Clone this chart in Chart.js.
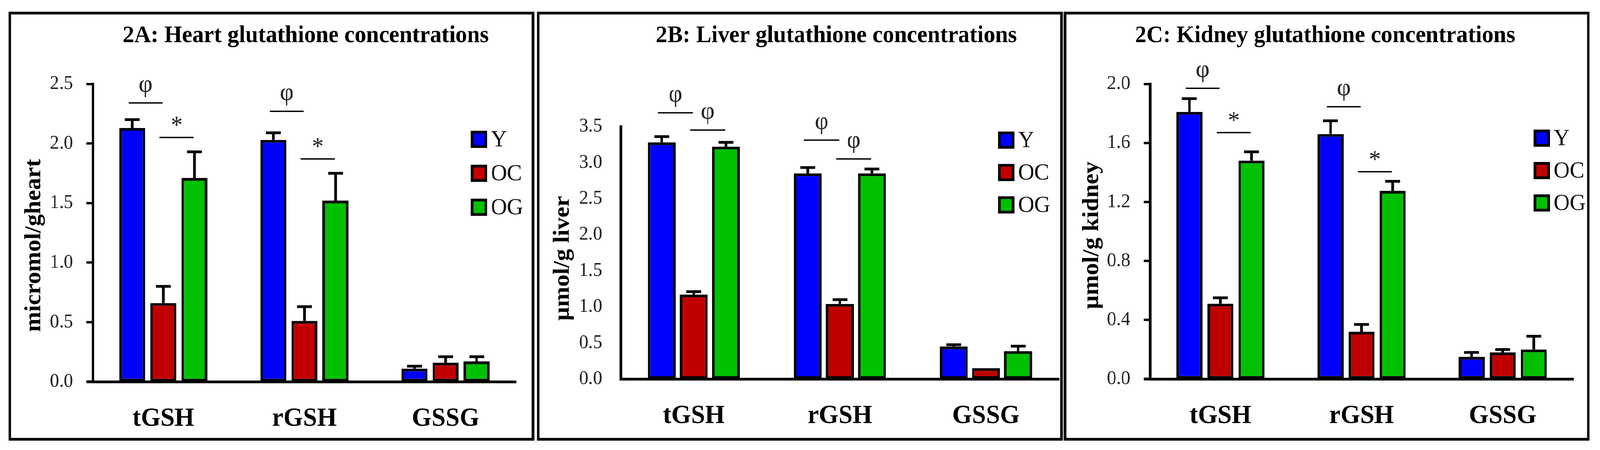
<!DOCTYPE html>
<html>
<head>
<meta charset="utf-8">
<script src="https://cdn.jsdelivr.net/npm/chart.js@4.4.1/dist/chart.umd.min.js"></script>
<style>
html, body { margin: 0; background: #fff; overflow: hidden; }
#page { width: 4312px; height: 1153px; position: relative; transform-origin: 0 0; background: #fff; }
.panel { position: absolute; top: 30px; width: 1403px; height: 1085px; border: 7px solid #000; background: #fff; }
canvas { display: block; }
</style>
</head>
<body>
<div id="page">
<div class="panel" style="left:23px"><canvas id="heart" width="1403" height="1085"></canvas></div>
<div class="panel" style="left:1447px"><canvas id="liver" width="1403" height="1085"></canvas></div>
<div class="panel" style="left:2867px"><canvas id="kidney" width="1403" height="1085"></canvas></div>
</div>
<script>
// categories and groups shared by all three panels
const categories = ['tGSH', 'rGSH', 'GSSG'];
const groups = ['Y', 'OC', 'OG'];

// 2A heart (micromol/g heart)
const heartY = [2.13, 2.03, 0.11];
const heartOC = [0.66, 0.51, 0.16];
const heartOG = [1.71, 1.52, 0.17];
const heartYErr = [0.07, 0.06, 0.02];
const heartOCErr = [0.14, 0.12, 0.05];
const heartOGErr = [0.22, 0.23, 0.04];
const heartTicks = [0, 2.5, 0.5]; // min, max, step
// significance marks: [category, bar from, bar to, level, symbol]
const heartMarks = [[0, 0, 1, 2.34, 'φ'], [0, 1, 2, 2.05, '*'], [1, 0, 1, 2.27, 'φ'], [1, 1, 2, 1.87, '*']];

// 2B liver (µmol/g liver)
const liverY = [3.28, 2.85, 0.45];
const liverOC = [1.17, 1.04, 0.15];
const liverOG = [3.22, 2.85, 0.385];
const liverYErr = [0.08, 0.08, 0.025];
const liverOCErr = [0.04, 0.06, 0];
const liverOGErr = [0.06, 0.06, 0.07];
const liverTicks = [0, 3.5, 0.5];
const liverMarks = [[0, 0, 1, 3.69, 'φ'], [0, 1, 2, 3.45, 'φ'], [1, 0, 1, 3.31, 'φ'], [1, 1, 2, 3.05, 'φ']];

// 2C kidney (µmol/g kidney)
const kidneyY = [1.81, 1.66, 0.15];
const kidneyOC = [0.51, 0.32, 0.18];
const kidneyOG = [1.48, 1.275, 0.20];
const kidneyYErr = [0.09, 0.09, 0.03];
const kidneyOCErr = [0.04, 0.05, 0.02];
const kidneyOGErr = [0.06, 0.065, 0.09];
const kidneyTicks = [0, 2.0, 0.4];
const kidneyMarks = [[0, 0, 1, 1.97, 'φ'], [0, 1, 2, 1.67, '*'], [1, 0, 1, 1.845, 'φ'], [1, 1, 2, 1.405, '*']];

const SERIF = '"Liberation Serif", "Times New Roman", serif';
const barColors = ['#0000ff', '#c00000', '#00c000'];
const W = 1403, H = 1085;

// the layout is drawn at 4312x1153 and fitted to whatever window we get
document.getElementById('page').style.transform =
    'scale(' + (window.innerWidth / 4312) + ',' + (window.innerHeight / 1153) + ')';

// draws error bars, significance marks, titles and the legend
const extras = {
    id: 'panelExtras',
    afterDatasetsDraw(chart, args, o) {
        const ctx = chart.ctx;
        const y = chart.scales.y;
        const area = chart.chartArea;
        ctx.save();
        ctx.strokeStyle = '#000';
        ctx.lineWidth = 7;
        // x axis runs a little past the y axis when there are tick marks
        if (o.axisTicks) {
            ctx.beginPath();
            ctx.moveTo(area.left - 17, area.bottom);
            ctx.lineTo(area.left, area.bottom);
            ctx.stroke();
        }
        o.errors.forEach((errs, d) => {
            const meta = chart.getDatasetMeta(d);
            meta.data.forEach((bar, j) => {
                if (!errs[j]) return;
                const top = y.getPixelForValue(o.values[d][j] + errs[j]);
                ctx.beginPath();
                ctx.moveTo(bar.x, bar.y);
                ctx.lineTo(bar.x, top);
                ctx.moveTo(bar.x - 20, top);
                ctx.lineTo(bar.x + 20, top);
                ctx.stroke();
            });
        });
        // significance lines and symbols
        ctx.lineWidth = 3.5;
        ctx.fillStyle = '#222';
        ctx.font = '64px ' + SERIF;
        ctx.textAlign = 'center';
        ctx.textBaseline = 'middle';
        o.marks.forEach(([cat, a, b, level, sym]) => {
            const x1 = chart.getDatasetMeta(a).data[cat].x - 10;
            const x2 = chart.getDatasetMeta(b).data[cat].x - 2;
            const ly = y.getPixelForValue(level);
            ctx.beginPath();
            ctx.moveTo(x1, ly);
            ctx.lineTo(x2, ly);
            ctx.stroke();
            ctx.fillText(sym, (x1 + x2) / 2, ly - (sym === '*' ? 28 : 46));
        });
        ctx.restore();
    },
    afterDraw(chart, args, o) {
        const ctx = chart.ctx;
        ctx.save();
        ctx.fillStyle = '#000';
        ctx.textBaseline = 'middle';
        ctx.textAlign = 'center';
        ctx.font = 'bold 62px ' + SERIF;
        ctx.fillText(o.title, o.titleX, 55);
        ctx.save();
        ctx.translate(o.yTitleX, o.yTitleY);
        ctx.rotate(-Math.PI / 2);
        ctx.fillText(o.yTitle, 0, 0);
        ctx.restore();
        // legend
        ctx.textAlign = 'left';
        ctx.font = '60px ' + SERIF;
        groups.forEach((g, i) => {
            const bx = o.legX, by = o.legY + i * o.legGap;
            ctx.fillStyle = barColors[i];
            ctx.fillRect(bx, by, 44, 44);
            ctx.strokeStyle = '#000';
            ctx.lineWidth = 7;
            ctx.strokeRect(bx + 3.5, by + 3.5, 37, 37);
            ctx.fillStyle = '#111';
            ctx.fillText(g, bx + 54, by + 24);
        });
        ctx.restore();
    }
};

function buildChart(id, p) {
    const values = [p.y, p.oc, p.og];
    return new Chart(document.getElementById(id), {
        type: 'bar',
        data: {
            labels: categories,
            datasets: groups.map((g, i) => ({
                label: g,
                data: values[i],
                backgroundColor: barColors[i],
                borderColor: '#000',
                borderWidth: 7,
                borderSkipped: false,
                categoryPercentage: 0.66,
                barPercentage: p.barPct
            }))
        },
        options: {
            responsive: false,
            animation: false,
            devicePixelRatio: 1,
            layout: { padding: { top: p.area[1], right: W - p.area[2], left: 0, bottom: 0 } },
            plugins: {
                legend: { display: false },
                tooltip: { enabled: false },
                panelExtras: {
                    values: values,
                    errors: p.errors,
                    marks: p.marks,
                    axisTicks: p.axisTicks,
                    title: p.title, titleX: p.titleX,
                    yTitle: p.yTitle, yTitleX: p.yTitlePos[0], yTitleY: p.yTitlePos[1],
                    legX: p.legend[0], legY: p.legend[1], legGap: p.legend[2]
                }
            },
            scales: {
                x: {
                    grid: { display: false, drawTicks: false },
                    border: { display: true, color: '#000', width: 7 },
                    ticks: { padding: 55, color: '#000', font: { family: SERIF, size: 68, weight: 'bold' } },
                    afterFit(s) { s.height = H - p.area[3]; }
                },
                y: {
                    min: p.ticks[0],
                    max: p.ticks[1],
                    grid: { display: p.axisTicks, drawOnChartArea: false, drawTicks: p.axisTicks, tickLength: 17, tickWidth: 6, color: '#000' },
                    border: { display: true, color: '#000', width: 7 },
                    ticks: {
                        stepSize: p.ticks[2],
                        padding: p.axisTicks ? 36 : 50,
                        color: '#222',
                        font: { family: SERIF, size: 50 },
                        callback: v => Number(v).toFixed(1)
                    },
                    afterFit(s) { s.width = p.area[0]; }
                }
            }
        },
        plugins: [extras]
    });
}

buildChart('heart', {
    y: heartY, oc: heartOC, og: heartOG,
    errors: [heartYErr, heartOCErr, heartOGErr],
    marks: heartMarks, ticks: heartTicks,
    area: [220, 178, 1361, 941], barPct: 0.84, axisTicks: true,
    title: '2A: Heart glutathione concentrations', titleX: 794,
    yTitle: 'micromol/gheart', yTitlePos: [62, 592],
    legend: [1239, 298, 87]
});

buildChart('liver', {
    y: liverY, oc: liverOC, og: liverOG,
    errors: [liverYErr, liverOCErr, liverOGErr],
    marks: liverMarks, ticks: liverTicks,
    area: [219, 287, 1400, 934], barPct: 0.87, axisTicks: false,
    title: '2B: Liver glutathione concentrations', titleX: 800,
    yTitle: 'µmol/g liver', yTitlePos: [63, 625],
    legend: [1236, 300, 83]
});

buildChart('kidney', {
    y: kidneyY, oc: kidneyOC, og: kidneyOG,
    errors: [kidneyYErr, kidneyOCErr, kidneyOGErr],
    marks: kidneyMarks, ticks: kidneyTicks,
    area: [225, 178, 1366, 934], barPct: 0.84, axisTicks: true,
    title: '2C: Kidney glutathione concentrations', titleX: 697,
    yTitle: 'µmol/g kidney', yTitlePos: [69, 566],
    legend: [1259, 295, 83]
});
</script>
</body>
</html>
